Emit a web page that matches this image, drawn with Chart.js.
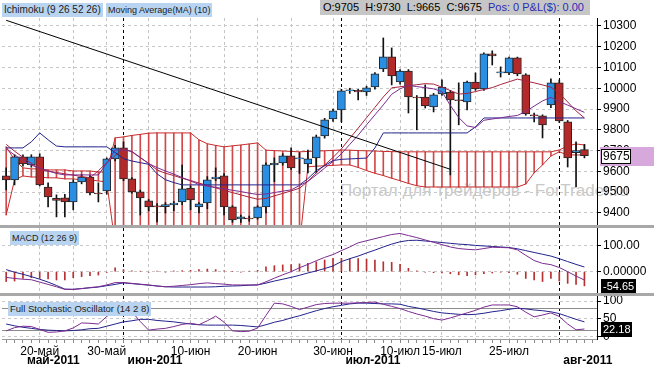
<!DOCTYPE html>
<html>
<head>
<meta charset="utf-8">
<script src="https://cdn.jsdelivr.net/npm/chart.js@4.4.1/dist/chart.umd.min.js"></script>
<style>
  body { margin: 0; width: 654px; height: 366px; overflow: hidden; background: #fff; position: relative;
         font-family: "Liberation Sans", Arial, sans-serif; }
  canvas { position: absolute; left: 0; }
  #main { top: 18px; }
  #macd { top: 228px; }
  #stoch { top: 296px; }
  .tag { position: absolute; font-size: 10px; line-height: 14px; background: #b8d4f0; color: #1c1c1c; padding: 0 2px; white-space: nowrap; }
  .tag.sm { font-size: 9px; }
  .tag.md { font-size: 9.5px; }
  .sep { position: absolute; left: 0; width: 654px; background: #a8a8a8; }
  #ohlc { position: absolute; left: 320px; top: 0; width: 270px; height: 15px; background: #c6c6c6; font-size: 11px; line-height: 15px; white-space: nowrap; }
  #ohlc span { margin-left: 3px; }
  #ohlc .pos { color: #2a2ab8; }
  #wm { position: absolute; left: 340px; top: 181px; font-size: 17px; color: #c9c9c9; white-space: nowrap; }
</style>
</head>
<body>
<div id="wm">Портал для трейдеров - ForTrader.ru</div>
<canvas id="main" width="654" height="207"></canvas>
<canvas id="macd" width="654" height="65"></canvas>
<canvas id="stoch" width="654" height="70"></canvas>
<div class="sep" style="top:225px;height:3px"></div>
<div class="sep" style="top:293px;height:3px"></div>
<div class="tag" style="left:2px;top:3px">Ichimoku (9 26 52 26)</div>
<div class="tag sm" style="left:106px;top:3px">Moving Average(MA) (10)</div>
<div id="ohlc"><span>O:9705</span> <span>H:9730</span> <span>L:9665</span> <span>C:9675</span> <span class="pos">Pos: 0 P&amp;L($): 0.00</span></div>
<div class="tag sm" style="left:10px;top:231px">MACD (12 26 9)</div>
<div class="tag md" style="left:8px;top:302px">Full Stochastic Oscillator (14 2 8)</div>

<script>
// daily bars (Sun-Fri), last label is an empty slot
const dates = ["16.05","17.05","18.05","19.05","20.05","22.05","23.05","24.05","25.05","26.05","27.05","29.05","30.05","31.05",
  "01.06","02.06","03.06","05.06","06.06","07.06","08.06","09.06","10.06","12.06","13.06","14.06","15.06","16.06","17.06","19.06",
  "20.06","21.06","22.06","23.06","24.06","26.06","27.06","28.06","29.06","30.06",
  "01.07","03.07","04.07","05.07","06.07","07.07","08.07","10.07","11.07","12.07","13.07","14.07","15.07","17.07","18.07","19.07",
  "20.07","21.07","22.07","24.07","25.07","26.07","27.07","28.07","29.07","31.07",
  "01.08","02.08","03.08","04.08","05.08"];

const tickDates = ["20.05","30.05","10.06","20.06","30.06","10.07","15.07","25.07"];
const tickLabels = ["20-май","30-май","10-июн","20-июн","30-июн","10-июл","15-июл","25-июл"];
const gridDates = ["20.05","25.05","30.05","05.06","10.06","15.06","20.06","24.06","30.06","05.07","10.07","15.07","20.07","25.07"];
const monthStarts = ["01.06","01.07","01.08"];
const monthLabels = ["май-2011","июн-2011","июл-2011","авг-2011"];
const monthAnchors = ["18.05","01.06","01.07","01.08"];

const priceTicks = [9400,9500,9600,9700,9800,9900,10000,10100,10200,10300];
const macdTicks = [0, 100];
const stochTicks = [0, 50, 100];

const open = [9578,9559,9670,9631,9670,9525,9470,9473,9453,9549,
  9573,9496,9506,9660,9713,9564,9501,9458,9434,9430,
  9439,9453,9520,9429,9448,9564,9578,9429,9371,9375,
  9376,9429,9631,9641,9675,9660,9636,9665,9771,9853,
  9896,9987,9990,9982,10006,10093,10151,10030,10083,9958,
  9958,9910,9973,9982,9944,9934,10030,9997,10165,10074,
  10074,10146,10064,9872,9867,9920,10026,9838,9690,9705];
const high = [9617,9680,9680,9680,9685,9545,9487,9490,9560,9585,
  9580,9545,9665,9725,9742,9570,9510,9465,9445,9450,
  9455,9631,9530,9450,9575,9617,9590,9435,9390,9385,
  9435,9641,9665,9685,9713,9690,9703,9775,9855,9900,
  9995,10000,9995,10010,10075,10242,10194,10090,10090,9965,
  10016,9975,10040,9990,10026,10035,10074,10170,10180,10103,
  10150,10150,10070,9880,9872,10045,10040,9845,9742,9730];
const low = [9511,9535,9625,9620,9530,9429,9381,9381,9415,9540,
  9487,9453,9490,9650,9555,9495,9390,9410,9357,9400,
  9410,9440,9415,9400,9420,9555,9390,9355,9355,9360,
  9370,9400,9550,9630,9610,9590,9593,9593,9760,9840,
  9838,9975,9944,9965,9995,10080,10016,10020,9881,9800,
  9905,9886,9965,9583,9824,9896,9990,9990,10112,10054,
  10065,10060,9870,9838,9761,9906,9835,9621,9525,9665];
const close = [9559,9670,9636,9670,9535,9477,9460,9453,9549,9573,
  9496,9491,9660,9713,9564,9501,9472,9429,9429,9440,
  9448,9516,9463,9444,9559,9573,9429,9366,9381,9371,
  9429,9631,9640,9675,9617,9665,9660,9766,9848,9891,
  9987,9992,9982,10002,10069,10151,10059,10083,9958,9953,
  9915,9968,10006,9944,9940,10030,9997,10165,10156,10078,
  10146,10069,9877,9867,9824,10026,9843,9665,9700,9675];

const tenkan = [9708,9679,9654,9630,9616,9602,9590,9583,9583,9583,
  9583,9583,9639,9703,9703,9696,9667,9638,9618,9602,
  9587,9570,9554,9537,9529,9523,9516,9509,9503,9495,
  9489,9491,9498,9505,9511,9532,9552,9583,9616,9648,
  9685,9730,9774,9824,9872,9920,9971,9997,10014,10008,
  10003,9997,9984,9917,9859,9819,9811,9846,9852,9858,
  9864,9869,9888,9914,9939,9956,9936,9919,9901,9884];
const kijun = [9713,9713,9713,9742,9785,9752,9722,9718,9718,9718,
  9718,9718,9718,9691,9661,9650,9642,9634,9588,9560,
  9546,9535,9535,9535,9535,9535,9535,9535,9535,9535,
  9535,9535,9535,9535,9535,9535,9565,9603,9628,9652,
  9658,9660,9662,9664,9713,9785,9785,9785,9785,9785,
  9785,9785,9785,9785,9785,9785,9814,9857,9857,9857,
  9857,9857,9857,9857,9857,9857,9857,9857,9857,9857];
const ma10 = [9730,9697,9668,9639,9607,9601,9595,9588,9582,9575,
  9569,9603,9642,9676,9710,9694,9666,9638,9607,9591,
  9580,9567,9556,9544,9532,9521,9509,9498,9487,9476,
  9466,9470,9482,9494,9506,9519,9552,9593,9631,9667,
  9708,9759,9808,9858,9908,9958,10002,10007,10012,10017,
  10022,10020,10005,9989,9972,9975,9984,9994,10003,10018,
  10031,10044,10035,10026,10016,10005,9976,9934,9891,9857];
const spanA = [9718,9655,9617,9612,9612,9607,9607,9607,9602,9602,
  9602,9597,9597,9761,9766,9773,9778,9784,9785,9785,
  9785,9785,9785,9752,9733,9725,9718,9723,9727,9732,
  9737,9702,9700,9698,9696,9694,9696,9698,9699,9701,
  9703,9702,9700,9699,9698,9696,9695,9694,9694,9694,
  9694,9694,9694,9694,9694,9694,9694,9694,9694,9694,
  9694,9694,9694,9694,9694,9694,9703,9722,9732,9727];
const spanB = [9390,9559,9578,9573,9573,9569,9569,9564,9564,9559,
  9559,9554,9549,9250,9250,9250,9250,9250,9250,9250,
  9250,9250,9250,9250,9250,9250,9250,9250,9250,9250,
  9250,9250,9250,9250,9250,9250,9622,9625,9627,9629,
  9631,9631,9619,9604,9591,9580,9567,9555,9542,9531,
  9525,9525,9525,9525,9525,9525,9525,9525,9525,9525,
  9525,9525,9539,9593,9631,9674,9694,9679,9679,9679];
const trendFrom = ["16.05", 10327];
const trendTo = ["17.07", 9610];

const macd = [-22,-26,-29,-31,-40,-49,-58,-68,-68,-65,
  -61,-58,-51,-42,-42,-45,-48,-51,-55,-58,
  -56,-53,-50,-46,-43,-46,-48,-51,-51,-51,
  -51,-39,-25,-12,0,15,28,42,55,66,
  81,95,111,119,127,135,143,147,139,131,
  122,113,104,95,89,86,84,89,94,93,
  92,84,63,43,32,27,16,0,-17,-32];
const signal = [8,-2,-10,-19,-29,-40,-53,-67,-68,-65,
  -62,-59,-54,-49,-43,-46,-49,-52,-55,-58,
  -59,-59,-59,-59,-59,-58,-56,-55,-54,-52,
  -51,-44,-36,-29,-22,-14,-5,3,12,22,
  39,50,60,72,83,95,106,115,120,121,
  118,115,112,109,106,104,101,99,97,95,
  93,88,81,74,67,60,50,39,28,18];
const hist = [-38,-36,-26,-23,-26,-28,-32,-32,-23,-19,
  -15,-13,-3,15,8,3,2,-2,2,-2,
  3,4,5,8,10,8,3,0,-2,2,
  5,19,23,26,27,30,32,38,45,51,
  51,50,50,48,45,38,36,28,13,3,
  -2,-4,-5,-8,-12,-15,-12,-8,-5,-2,
  -4,-10,-26,-32,-38,-26,-36,-45,-49,-54.65];

const stochK = [17,26,30,29,21,13,14,17,25,39,
  38,36,57,76,81,70,43,19,22,24,
  29,35,38,34,45,58,41,17,15,16,
  25,60,94,92,85,76,83,90,93,94,
  94,94,95,96,97,91,85,79,71,64,
  58,51,47,53,60,67,74,83,89,89,
  89,84,69,56,61,67,57,36,20,22.18];
const stochD = [36,31,27,24,21,19,18,17,18,20,
  23,24,30,36,42,45,49,49,46,44,
  42,39,36,34,33,33,33,33,32,30,
  28,34,41,46,53,59,66,73,79,84,
  88,92,94,94,93,92,92,91,85,81,
  76,71,67,65,63,62,63,66,70,73,
  77,80,78,75,73,70,65,57,49,42];
const stochLevels = [80, 20];

// ---- derived tables for the library
const bodies = open.map((o, i) => [o, close[i]]);
const wicks = low.map((l, i) => [l, high[i]]);
const cloud = spanA.map((a, i) => [a, spanB[i]]);
const bodyColors = open.map((o, i) => close[i] >= o ? "#2a8fe2" : "#b42a2a");
const trend = dates.map((d) => d == trendFrom[0] ? trendFrom[1] : d == trendTo[0] ? trendTo[1] : null);

Chart.defaults.font.family = '"Liberation Sans", Arial, sans-serif';
Chart.defaults.font.size = 12;
Chart.defaults.color = "#000";
Chart.defaults.animation = false;
Chart.defaults.responsive = false;
Chart.defaults.plugins.legend.display = false;
Chart.defaults.plugins.tooltip.enabled = false;

function vLineColor(i) {
  let d = dates[i];
  if (monthStarts.includes(d)) return "#000";
  if (gridDates.includes(d)) return "#c4c4c4";
  return "rgba(0,0,0,0)";
}

function noPad(s) {
  s.paddingTop = 0; s.paddingBottom = 0; s.paddingLeft = 0; s.paddingRight = 0;
}

function xAxis(withLabels) {
  return {
    type: "category",
    offset: true,
    grid: { offset: false, color: (c) => vLineColor(c.index), drawTicks: withLabels, tickLength: 4, tickColor: "#8a8a8a" },
    border: { display: withLabels, color: "#9a9a9a", dash: [3, 3] },
    ticks: {
      display: withLabels, autoSkip: false, maxRotation: 0, padding: 1,
      callback: (v, i) => { let k = tickDates.indexOf(dates[i]); return k < 0 ? "" : tickLabels[k]; }
    },
    afterFit: (s) => { s.height = withLabels ? 27 : 0; noPad(s); }
  };
}

function yAxis(min, max, tickList, fmt) {
  return {
    position: "right", min: min, max: max,
    afterBuildTicks: (s) => { s.ticks = tickList.map((v) => ({ value: v })); },
    ticks: { padding: 2, callback: fmt },
    grid: { color: "#c8c8c8", tickColor: "#000", tickLength: 4 },
    border: { display: true, color: "#000", dash: [3, 3] },
    afterFit: (s) => { s.width = 57; noPad(s); }
  };
}

function line(data, color, order) {
  return { type: "line", data: data, borderColor: color, borderWidth: 1, pointRadius: 0, tension: 0, order: order };
}

// small box with the last value on the right axis
const lastBox = {
  id: "lastBox",
  afterDraw(chart, args, o) {
    if (o.value == null) return;
    let ctx = chart.ctx;
    let y = Math.round(chart.scales.y.getPixelForValue(o.value));
    let x0 = chart.chartArea.right;
    ctx.save();
    if (o.band) { ctx.fillStyle = o.band; ctx.fillRect(x0 + 3, y - 9, chart.width - x0 - 3, 19); }
    ctx.fillStyle = o.bg;
    ctx.fillRect(x0 + 4, y - 7, o.w, 15);
    if (o.border) { ctx.strokeStyle = o.border; ctx.lineWidth = 1; ctx.strokeRect(x0 + 4.5, y - 6.5, o.w - 1, 14); }
    ctx.fillStyle = o.fg;
    ctx.font = o.font;
    ctx.textBaseline = "middle";
    ctx.fillText(o.text, x0 + 6, y + 1);
    ctx.restore();
  }
};

const levels = {
  id: "levels",
  beforeDatasetsDraw(chart, args, o) {
    if (!o.values) return;
    let ctx = chart.ctx, a = chart.chartArea;
    ctx.save();
    ctx.strokeStyle = "#8c8c8c";
    ctx.lineWidth = 1;
    o.values.forEach((v) => {
      let y = Math.round(chart.scales.y.getPixelForValue(v)) + 0.5;
      ctx.beginPath(); ctx.moveTo(a.left, y); ctx.lineTo(a.right, y); ctx.stroke();
    });
    ctx.restore();
  }
};

const months = {
  id: "months",
  afterDraw(chart, args, o) {
    if (!o.labels) return;
    let ctx = chart.ctx, x = chart.scales.x;
    ctx.save();
    ctx.font = 'bold 12px "Liberation Sans", Arial';
    ctx.fillStyle = "#000";
    ctx.textBaseline = "middle";
    o.labels.forEach((t, k) => {
      let i = dates.indexOf(o.anchors[k]);
      ctx.fillText(t, x.getPixelForValue(i) + 4, chart.height - 5);
    });
    ctx.restore();
  }
};

const boxFont = '12px "Liberation Sans", Arial';
const smallFont = '11px "Liberation Sans", Arial';

new Chart(document.getElementById("main"), {
  type: "bar",
  data: {
    labels: dates,
    datasets: [
      { type: "line", data: trend, borderColor: "#000", borderWidth: 1, pointRadius: 0, spanGaps: true, order: 0 },
      line(tenkan, "#7b2c90", 1),
      line(kijun, "#22228c", 1),
      line(ma10, "#a8223e", 1),
      { data: bodies, backgroundColor: bodyColors, borderColor: "#262626", borderWidth: 1, borderSkipped: false,
        barThickness: 8, minBarLength: 1, grouped: false, order: 3 },
      { data: wicks, backgroundColor: "#111", barThickness: 1, grouped: false, order: 4 },
      line(spanA, "#c82c2c", 5),
      line(spanB, "#c82c2c", 5),
      { data: cloud, backgroundColor: "#d24848", barThickness: 1, grouped: false, order: 6 }
    ]
  },
  options: {
    layout: { padding: { left: 2, top: 0, right: 0, bottom: 0 } },
    scales: { x: xAxis(false), y: yAxis(9342, 10338, priceTicks, (v) => v) },
    plugins: { lastBox: { value: close[close.length - 1], text: String(close[close.length - 1]), bg: "#fff", fg: "#000",
      border: "#000", band: "#d6a8dc", w: 30, font: boxFont } }
  },
  plugins: [lastBox]
});

new Chart(document.getElementById("macd"), {
  type: "bar",
  data: {
    labels: dates,
    datasets: [
      line(macd, "#7b2c90", 1),
      line(signal, "#22228c", 1),
      { data: hist, backgroundColor: "#b83030", barThickness: 1, grouped: false, order: 3 }
    ]
  },
  options: {
    layout: { padding: { left: 2 } },
    scales: { x: xAxis(false), y: yAxis(-82, 168, macdTicks, (v) => v == 0 ? "0.00000" : v.toFixed(2)) },
    plugins: { lastBox: { value: hist[hist.length - 1], text: hist[hist.length - 1].toFixed(2), bg: "#000", fg: "#fff", w: 35, font: smallFont } }
  },
  plugins: [lastBox]
});

new Chart(document.getElementById("stoch"), {
  type: "line",
  data: {
    labels: dates,
    datasets: [
      line(stochK, "#7b2c90", 1),
      line(stochD, "#22228c", 2)
    ]
  },
  options: {
    layout: { padding: { left: 2 } },
    scales: { x: xAxis(true), y: yAxis(-5.6, 113.9, stochTicks, (v) => v) },
    plugins: {
      lastBox: { value: stochK[stochK.length - 1], text: stochK[stochK.length - 1].toFixed(2), bg: "#000", fg: "#fff", w: 31, font: smallFont },
      levels: { values: stochLevels },
      months: { labels: monthLabels, anchors: monthAnchors }
    }
  },
  plugins: [levels, lastBox, months]
});
</script>
</body>
</html>
